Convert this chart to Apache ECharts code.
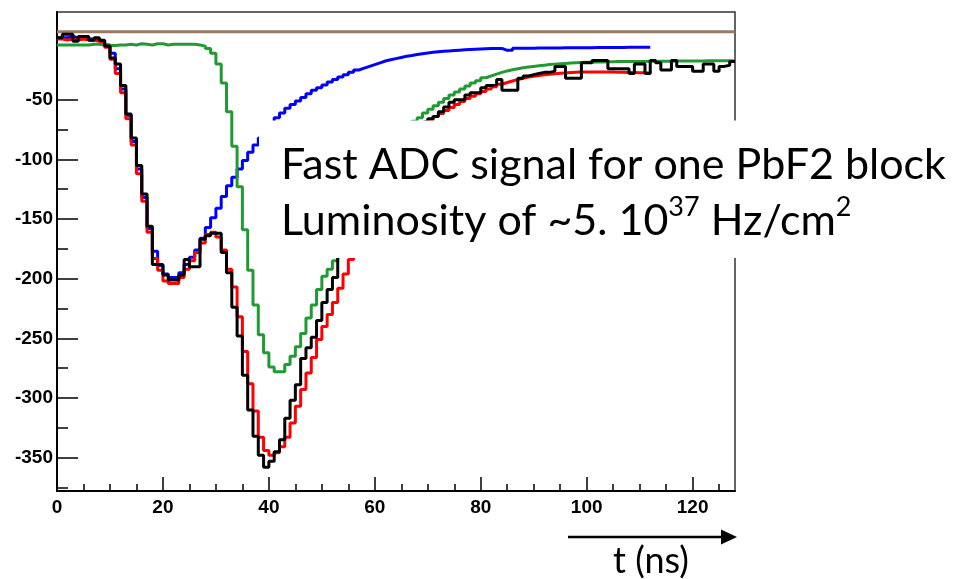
<!DOCTYPE html>
<html><head><meta charset="utf-8">
<script src="https://cdn.jsdelivr.net/npm/echarts@6/dist/echarts.min.js"></script>
<style>html,body{margin:0;padding:0;background:#fff}#c{width:959px;height:579px}</style>
</head><body><div id="c"></div>
<script>
// ---- data (1 ns bins starting at t = 0) ----
const BIN_NS = 1;
const xMajorTicks = [0, 20, 40, 60, 80, 100, 120];
const xMinorTicks = [5, 10, 15, 25, 30, 35, 45, 50, 55, 65, 70, 75, 85, 90, 95, 105, 110, 115, 125];
const yMajorTicks = [-350, -300, -250, -200, -150, -100, -50];
const yMinorTicks = [-375, -325, -275, -225, -175, -125, -75];

const brownT = [0, 128];
const brownV = [7, 7];

const blue = [2,2,3,2,2,1,1,0,-1,-4,
 -11,-24,-41,-63,-85,-108,-132,-158,-177,-189,
 -196,-199,-199,-195,-188,-182,-176,-166,-157,-149,
 -141,-131,-122,-115,-108,-101,-94,-88,-82,-76,
 -70,-65,-61,-57,-54,-51,-48,-45,-42,-40,
 -37.5,-35,-33,-31,-29,-27,-25,-23.5,-22,-20.5,
 -19,-17.5,-16.5,-15.5,-14.5,-13.5,-12.8,-12,-11.4,-10.8,
 -10.2,-9.8,-9.4,-9,-8.7,-8.4,-8.1,-7.8,-7.6,-7.4,
 -7.2,-7.1,-7,-6.9,-8.5,-8.5,-6.8,-6.8,-6.7,-6.7,
 -6.6,-6.6,-6.5,-6.5,-6.5,-6.4,-6.4,-6.4,-6.3,-6.3,
 -6.3,-6.2,-6.2,-6.2,-6.1,-6.1,-6.1,-6,-6,-6,-6,-6];

const red = [1,0,1,0,1,0,0,-1,-2,-6,
 -16,-28,-44,-66,-88,-112,-135,-161,-183,-193,
 -202,-204,-204,-199,-192,-185,-178,-170,-163,-161,
 -165,-176,-192,-207,-232,-261,-288,-311,-333,-344,
 -348,-346,-341,-333,-321,-307,-293,-279,-266,-251,
 -240,-230,-220,-208,-196,-184,-172,-161,-150,-140,
 -131,-122,-114,-106,-99,-92,-86,-80,-75,-71,
 -67,-64,-61.5,-59,-56.5,-54,-51.5,-49,-47,-45,
 -43,-41,-39,-37,-35.5,-34.2,-33,-32,-31,-30.3,
 -29.7,-29.1,-28.6,-28.2,-27.8,-27.5,-27.2,-27,-26.8,-26.7,
 -26.6,-26.6,-26.6,-26.7,-26.8,-26.9,-27,-27.1,-27.2,-27.3,-27.4,-27.5];

const green = [-4,-4,-4,-4,-4,-4,-3.5,-3.5,-4,-4.5,
 -4.5,-4,-4,-3.5,-4,-3,-3.5,-4,-3,-3,
 -4,-3.5,-3.5,-3.5,-3.5,-3.5,-4,-5,-7,-11,
 -20,-36,-60,-89,-123,-159,-193,-222,-247,-262,
 -274,-278,-278,-272,-265,-257,-246,-233,-222,-209,
 -198,-192,-185,-172,-160,-149,-138,-128,-119,-111,
 -103,-96,-90,-84,-79,-75,-71,-68,-65,-61,
 -58,-55,-52,-49,-46,-43.5,-41,-38.5,-36,-34,
 -31.5,-30,-28.5,-27,-25.8,-24.8,-24,-23.2,-22.5,-22,
 -21.5,-21,-20.5,-20.1,-19.8,-19.5,-19.2,-19,-18.8,-18.6,
 -18.5,-18.4,-18.3,-18.2,-18.1,-18,-18,-17.9,-17.9,-17.8,
 -17.8,-17.7,-17.7,-17.6,-17.6,-17.6,-17.5,-17.5,-17.5,-17.4,
 -17.4,-17.4,-17.3,-17.3,-17.3,-17.2,-17.2,-17.2];

const black = [2,5,5,-1,3,3,0,2,0,-5,
 -15,-20,-38,-62,-82,-105,-129,-156,-188,-188,
 -197,-201,-201,-197,-184,-190,-190,-167,-164,-162,
 -162,-178,-195,-224,-248,-281,-310,-332,-348,-358,
 -353,-345,-335,-317,-302,-289,-267,-258,-249,-235,
 -220,-209,-199,-172,-160,-148,-137,-127,-118,-110,
 -102,-96,-90,-85,-80,-76,-73,-70,-69,-68,
 -66,-64,-60,-56,-52,-50,-50,-46,-44,-44,
 -40,-38,-37,-33,-42,-42,-42,-32,-30,-29,
 -28,-27,-27,-26,-22,-22,-32,-32,-32,-19,
 -19,-17,-17,-17,-24,-24,-24,-24,-28,-20,
 -20,-28,-17,-19,-25,-25,-17,-22,-22,-22,
 -26,-26,-20,-20,-26,-22,-21,-18];

// ---- build histogram point lists ----
function hist(vals) {
  const d = vals.map((v, i) => [i * BIN_NS, v]);
  d.push([vals.length * BIN_NS, vals[vals.length - 1]]);
  return d;
}

const el = document.getElementById('c');
const chart = echarts.init(el, null, {renderer: 'canvas', width: 959, height: 579});

// font sizing by measurement
const cv = document.createElement('canvas').getContext('2d');
const FONT = 'Lato';
cv.font = '100px ' + FONT;
const line1 = 'Fast ADC signal for one PbF2 block';
const S = Math.round(100 * 665 / cv.measureText(line1).width * 10) / 10;
const T = Math.round(100 * 76 / cv.measureText('t (ns)').width * 10) / 10;

const labelStyle = {fontFamily: 'Liberation Sans', fontWeight: 'bold', fontSize: 19, color: '#000'};

const mkSeries = (name, data, color, width, z) => ({
  name, type: 'line', step: 'end', data, symbol: 'none', showSymbol: false,
  lineStyle: {color, width}, itemStyle: {color}, z, animation: false, silent: true
});

chart.setOption({
  animation: false,
  backgroundColor: '#fff',
  grid: {left: 57, top: 12, width: 678, height: 479, show: true, borderColor: '#333', borderWidth: 1.5, backgroundColor: 'transparent'},
  xAxis: [
    {type: 'value', min: 0, max: 128, position: 'bottom',
     axisLine: {show: true, onZero: false, lineStyle: {color: '#000', width: 2}},
     axisTick: {show: true, inside: true, length: 14, customValues: xMajorTicks, lineStyle: {color: '#000', width: 1.5}},
     axisLabel: Object.assign({show: true, margin: 7, customValues: xMajorTicks}, labelStyle),
     splitLine: {show: false}},
    {type: 'value', min: 0, max: 128, position: 'bottom',
     axisLine: {show: false, onZero: false},
     axisTick: {show: true, inside: true, length: 7, customValues: xMinorTicks, lineStyle: {color: '#000', width: 1.5}},
     axisLabel: {show: false}, splitLine: {show: false}}
  ],
  yAxis: [
    {type: 'value', min: -378, max: 23.6, position: 'left',
     axisLine: {show: true, onZero: false, lineStyle: {color: '#000', width: 2}},
     axisTick: {show: true, inside: true, length: 21, customValues: yMajorTicks, lineStyle: {color: '#000', width: 1.5}},
     axisLabel: Object.assign({show: true, margin: 4, customValues: yMajorTicks}, labelStyle),
     splitLine: {show: false}},
    {type: 'value', min: -378, max: 23.6, position: 'left',
     axisLine: {show: false, onZero: false},
     axisTick: {show: true, inside: true, length: 11, customValues: yMinorTicks, lineStyle: {color: '#000', width: 1.5}},
     axisLabel: {show: false}, splitLine: {show: false}}
  ],
  series: [
    mkSeries('brown', brownT.map((t, i) => [t, brownV[i]]), '#9b7a60', 3, 2),
    mkSeries('blue', hist(blue), '#0000ff', 3, 3),
    mkSeries('green', hist(green), '#229a33', 3, 4),
    mkSeries('red', hist(red), '#ff0000', 3, 5),
    mkSeries('black', hist(black), '#000000', 3, 6)
  ],
  graphic: [
    {type: 'rect', z: 100, shape: {x: 259, y: 120.5, width: 700, height: 137.5}, style: {fill: '#fff'}},
    {type: 'text', z: 101, x: 281, y: 165, style: {text: line1, fontSize: S, fontFamily: FONT, fill: '#000', verticalAlign: 'middle', align: 'left'}},
    {type: 'text', z: 101, x: 281, y: 221, style: {
      text: '{a|Luminosity of ~5. 10}{s|37}{a| Hz/cm}{s|2}',
      verticalAlign: 'middle', align: 'left',
      rich: {
        a: {fontSize: S, fontFamily: FONT, fill: '#000', lineHeight: S * 1.25, verticalAlign: 'middle'},
        s: {fontSize: Math.round(S * 0.62), fontFamily: FONT, fill: '#000', lineHeight: S * 1.25, verticalAlign: 'top'}
      }}},
    {type: 'line', z: 101, shape: {x1: 568, y1: 537, x2: 723, y2: 537}, style: {stroke: '#000', lineWidth: 2.5}},
    {type: 'polygon', z: 101, shape: {points: [[721, 529.5], [737, 537], [721, 544.5]]}, style: {fill: '#000'}},
    {type: 'text', z: 101, x: 651, y: 561, style: {text: 't (ns)', fontSize: T, fontFamily: FONT, fill: '#000', align: 'center', verticalAlign: 'middle'}}
  ]
});
</script></body></html>
